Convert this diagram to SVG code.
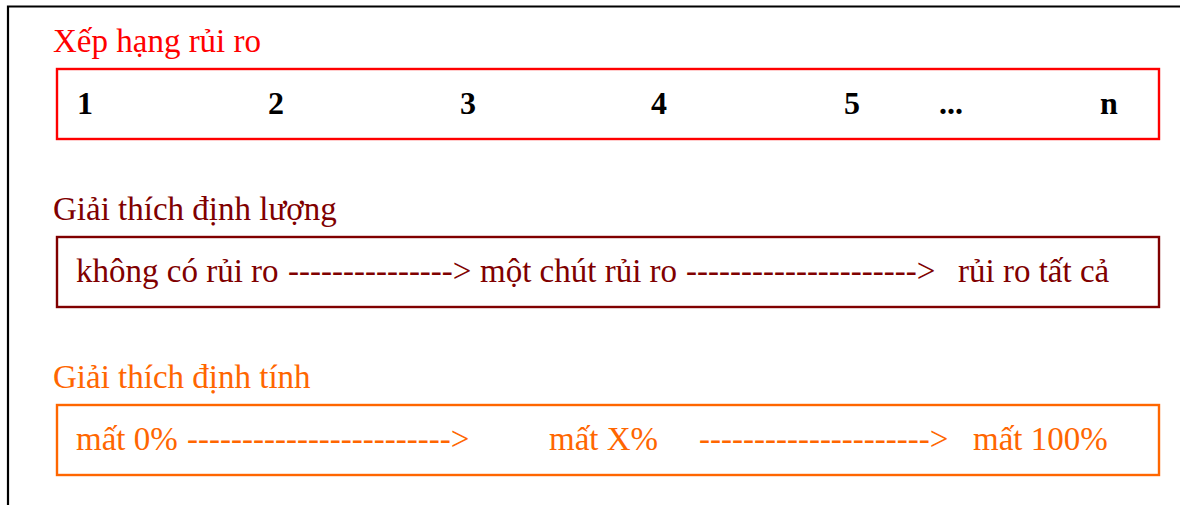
<svg xmlns="http://www.w3.org/2000/svg" width="1180" height="505" viewBox="0 0 1180 505">
<style>
.t{font-family:"Liberation Serif","Times New Roman",serif;font-size:33px}
.b{font-family:"Liberation Serif","Times New Roman",serif;font-size:32px;font-weight:bold;fill:#000}
.box{fill:none;stroke-width:2.4}
.red{fill:#FF0000}
.mar{fill:#800000}
.ora{fill:#FF6600}
</style>
<rect width="1180" height="505" fill="#fff"/>
<g id="frame">
<path d="M8,505 V6.5 H1180" fill="none" stroke="#000" stroke-width="2.2"/>
</g>
<g id="ranking">
<text class="t red" x="53" y="52">Xếp hạng rủi ro</text>
<rect class="box" x="57" y="69" width="1102" height="70" stroke="#FF0000"/>
<text class="b" y="114"><tspan x="77">1</tspan><tspan x="268">2</tspan><tspan x="460">3</tspan><tspan x="651">4</tspan><tspan x="844">5</tspan><tspan x="939">...</tspan><tspan x="1100">n</tspan></text>
</g>
<g id="quantitative">
<text class="t mar" x="53" y="220">Giải thích định lượng</text>
<rect class="box" x="57" y="237" width="1102" height="70" stroke="#800000"/>
<text class="t mar" y="282"><tspan x="76">không có rủi ro</tspan><tspan x="288">---------------&gt;</tspan><tspan x="480">một chút rủi ro</tspan><tspan x="686">---------------------&gt;</tspan><tspan x="958">rủi ro tất cả</tspan></text>
</g>
<g id="qualitative">
<text class="t ora" x="53" y="388">Giải thích định tính</text>
<rect class="box" x="57" y="405" width="1102" height="70" stroke="#FF6600"/>
<text class="t ora" y="450"><tspan x="76">mất 0%</tspan><tspan x="187">------------------------&gt;</tspan><tspan x="549">mất X%</tspan><tspan x="699">---------------------&gt;</tspan><tspan x="973">mất 100%</tspan></text>
</g>
</svg>
